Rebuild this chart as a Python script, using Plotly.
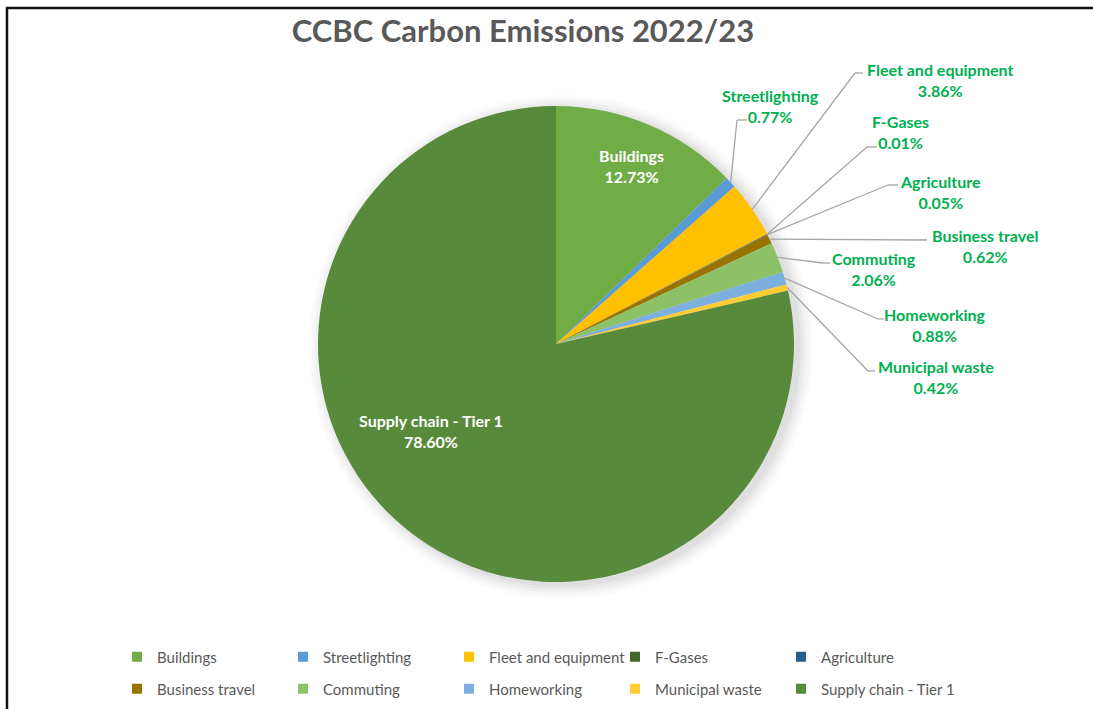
import math
import plotly.graph_objects as go

# ---- data ----
categories = ["Buildings", "Streetlighting", "Fleet and equipment", "F-Gases",
              "Agriculture", "Business travel", "Commuting", "Homeworking",
              "Municipal waste", "Supply chain - Tier 1"]
shares = [12.73, 0.77, 3.86, 0.01, 0.05, 0.62, 2.06, 0.88, 0.42, 78.60]
colors = ["#70AD47", "#5B9BD5", "#FFC000", "#43682B", "#255E91",
          "#997300", "#8CC168", "#7CAFDD", "#FFCD33", "#588A3B"]
title_text = "CCBC Carbon Emissions 2022/23"

# ---- layout constants (pixels) ----
W, H = 1093, 709
ML, MR, MT, MB = 0, 0, 0, 0
PW = W - ML - MR
PH = H - MT - MB
CX, CY, R = 556, 344, 238

def px(x):
    return (x - ML) / PW

def py(y):
    return 1 - (y - MT) / PH

# label placement: (elbow, end of horizontal, label centre) in pixels
outside = {
    "Streetlighting": ((737, 120), (747, 120), (770, 106)),
    "Fleet and equipment": ((855, 73), (863, 73), (940, 80)),
    "F-Gases": ((867, 147), (877, 147), (900, 132)),
    "Agriculture": ((888, 185), (898, 185), (940, 192)),
    "Business travel": ((927, 240), (927, 240), (985, 246)),
    "Commuting": ((823, 263), (830, 263), (874, 269)),
    "Homeworking": ((878, 319), (884, 319), (935, 325)),
    "Municipal waste": ((868, 371), (875, 371), (936, 377)),
}
inside = {
    "Buildings": (631, 166),
    "Supply chain - Tier 1": (431, 431),
}

FONT = "Lato"
LABEL_GREEN = "#00B050"
LABEL_SIZE = 16

fig = go.Figure()
fig.add_trace(go.Pie(
    labels=categories,
    values=shares,
    marker=dict(colors=colors, line=dict(width=0)),
    sort=False,
    direction="clockwise",
    rotation=0,
    textinfo="none",
    hoverinfo="label+percent",
    showlegend=False,
    domain=dict(x=[px(CX - R), px(CX + R)], y=[py(CY + R), py(CY - R)]),
))

# legend entries: two rows of five, drawn by plotly's legend
# (last column in its own legends so long names are not clipped)
LEG_X0, LEG_COL = 117, 166
LEG_ROWS_Y = [657, 689]
for i, (name, col) in enumerate(zip(categories, colors)):
    row, c = divmod(i, 5)
    if c < 4:
        leg = "legend" if row == 0 else "legend2"
    else:
        leg = "legend3" if row == 0 else "legend4"
    fig.add_trace(go.Scatter(
        x=[None], y=[None], mode="markers", name=name,
        marker=dict(symbol="square", size=10, color=col),
        legend=leg,
        hoverinfo="skip",
    ))

shapes = []
annotations = []

# soft shadow behind pie
for i, a in enumerate([0.035, 0.03, 0.025, 0.02, 0.015]):
    rr = R + 2 + i * 3
    ox, oy = 5, 3
    shapes.append(dict(type="circle", xref="paper", yref="paper", layer="below",
                       x0=px(CX + ox - rr), x1=px(CX + ox + rr),
                       y0=py(CY + oy + rr), y1=py(CY + oy - rr),
                       fillcolor=f"rgba(0,0,0,{a})", line=dict(width=0)))

total = sum(shares)
cum = 0.0
for name, v in zip(categories, shares):
    mid = (cum + v / 2) / total * 2 * math.pi
    cum += v
    text = f"<b>{name}</b><br><b>{v:.2f}%</b>"
    if name in outside:
        (ex, ey), (hx, hy), (lx, ly) = outside[name]
        ax = CX + R * math.sin(mid)
        ay = CY - R * math.cos(mid)
        shapes.append(dict(type="line", xref="paper", yref="paper",
                           x0=px(ax), y0=py(ay), x1=px(ex), y1=py(ey),
                           line=dict(color="#A6A6A6", width=1.3)))
        if (hx, hy) != (ex, ey):
            shapes.append(dict(type="line", xref="paper", yref="paper",
                               x0=px(ex), y0=py(ey), x1=px(hx), y1=py(hy),
                               line=dict(color="#A6A6A6", width=1.3)))
        annotations.append(dict(x=px(lx), y=py(ly), xref="paper", yref="paper",
                                text=text, showarrow=False, align="center",
                                xanchor="center", yanchor="middle",
                                font=dict(family=FONT, size=LABEL_SIZE, color=LABEL_GREEN)))
    else:
        lx, ly = inside[name]
        annotations.append(dict(x=px(lx), y=py(ly), xref="paper", yref="paper",
                                text=text, showarrow=False, align="center",
                                xanchor="center", yanchor="middle",
                                font=dict(family=FONT, size=LABEL_SIZE, color="white")))

# frame lines (top and left)
shapes.append(dict(type="line", xref="paper", yref="paper",
                   x0=px(6), x1=px(W + 5), y0=py(8), y1=py(8),
                   line=dict(color="#111111", width=2.5)))
shapes.append(dict(type="line", xref="paper", yref="paper",
                   x0=px(7), x1=px(7), y0=py(7), y1=py(H + 5),
                   line=dict(color="#111111", width=2.5)))

legend_common = dict(orientation="h", xanchor="left", yanchor="middle",
                     font=dict(family=FONT, size=15, color="#595959"),
                     itemclick=False, itemdoubleclick=False,
                     bgcolor="rgba(0,0,0,0)")
grid_leg = dict(entrywidth=LEG_COL - 45, entrywidthmode="pixels", **legend_common)
last_x = LEG_X0 + 4 * LEG_COL

fig.update_layout(
    width=W, height=H,
    margin=dict(l=ML, r=MR, t=MT, b=MB, pad=0),
    paper_bgcolor="white",
    plot_bgcolor="rgba(0,0,0,0)",
    xaxis=dict(visible=False),
    yaxis=dict(visible=False),
    title=dict(text=f"<b>{title_text}</b>", x=523 / W, xanchor="center",
               y=1 - 31 / H, yanchor="middle", yref="container",
               font=dict(family=FONT, size=31, color="#595959")),
    showlegend=True,
    legend=dict(x=px(LEG_X0), y=py(LEG_ROWS_Y[0]), **grid_leg),
    legend2=dict(x=px(LEG_X0), y=py(LEG_ROWS_Y[1]), **grid_leg),
    legend3=dict(x=px(last_x), y=py(LEG_ROWS_Y[0]), **legend_common),
    legend4=dict(x=px(last_x), y=py(LEG_ROWS_Y[1]), **legend_common),
    shapes=shapes,
    annotations=annotations,
)

fig.write_html("out.html", config={"displayModeBar": False},
               post_script="document.body.style.margin='0px';")
